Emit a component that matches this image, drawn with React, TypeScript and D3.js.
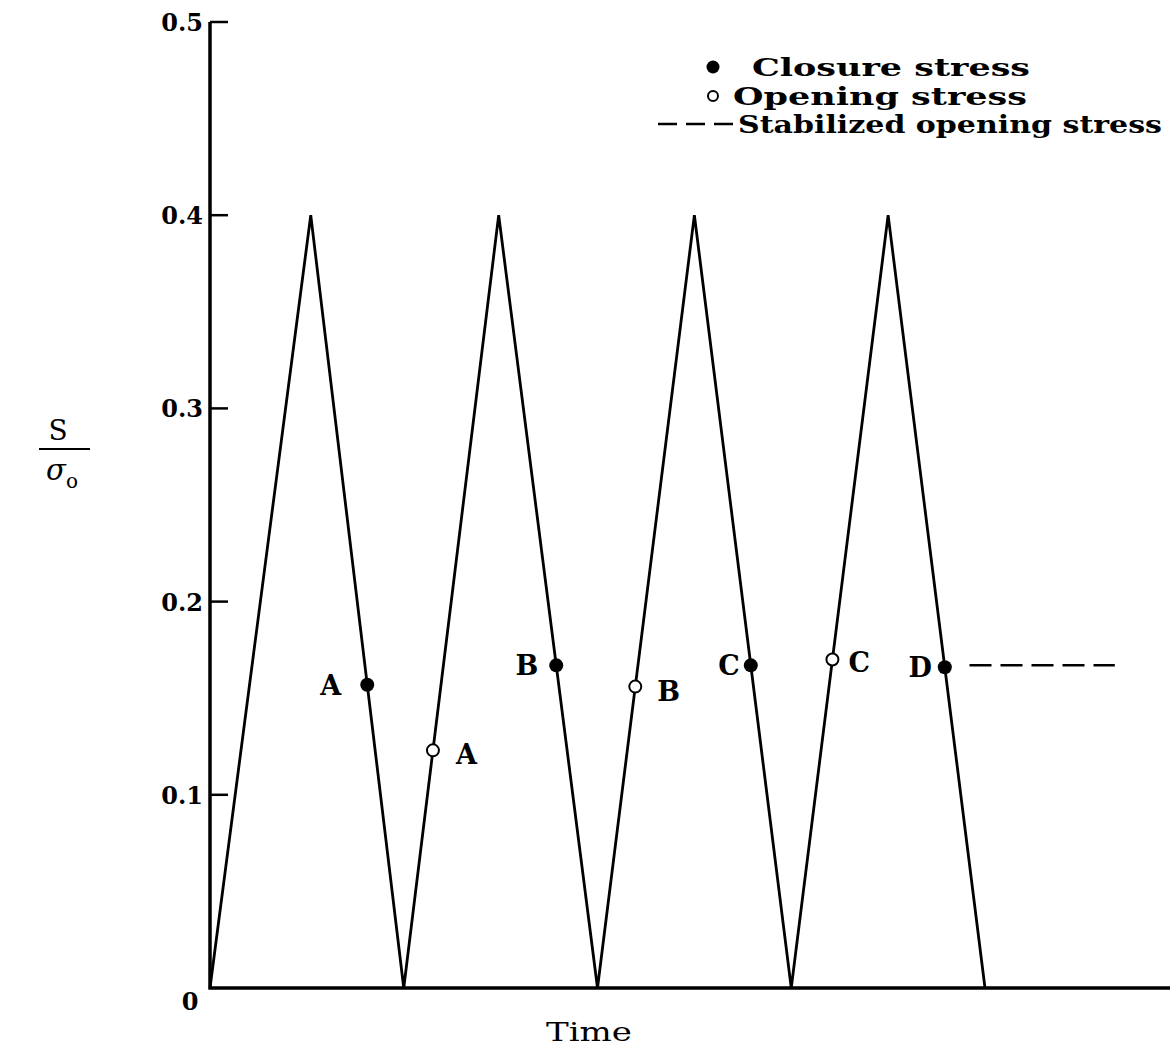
import React from 'react'
import * as d3 from 'd3'

// vertices of the loading wave (time in cycles, stress S/sigma_o)
const waveTimes = [0, 0.52, 1.0, 1.49, 2.0, 2.5, 3.0, 3.5, 4.0]
const waveStress = [0, 0.4, 0, 0.4, 0, 0.4, 0, 0.4, 0]

// closure stress points lie on descending legs (segment index = 2*cycle+1)
const closureLabels = ['A', 'B', 'C', 'D']
const closureSegments = [1, 3, 5, 7]
const closureValues = [0.157, 0.167, 0.167, 0.166]

// opening stress points lie on ascending legs
const openingLabels = ['A', 'B', 'C']
const openingSegments = [2, 4, 6]
const openingValues = [0.123, 0.156, 0.17]

const stabilizedValue = 0.167
const stabilizedTimes = [3.92, 4.67]

const yTicks = [0, 0.1, 0.2, 0.3, 0.4, 0.5]

const W = 1170
const H = 1048
const FONT = '"DejaVu Serif", serif'

// label offsets from their markers (layout only)
const closureDx = [-26, -18, -11, -13]
const openingDx = [23, 22, 16]
const openingDy = [14, 14, 12]

export default function App() {
  const x = d3.scaleLinear().domain([0, 4]).range([210, 985])
  const y = d3.scaleLinear().domain([0, 0.5]).range([988, 22])

  const line = d3.line<number>()
    .x((_, i) => x(waveTimes[i]))
    .y((d) => y(d))

  // time where a segment reaches a given stress
  const timeOnSegment = (seg: number, s: number) => {
    const t0 = waveTimes[seg]
    const t1 = waveTimes[seg + 1]
    const s0 = waveStress[seg]
    const s1 = waveStress[seg + 1]
    return t0 + ((s - s0) / (s1 - s0)) * (t1 - t0)
  }

  return (
    <div style={{ position: 'absolute', left: 0, top: 0 }}>
      <svg width={W} height={H} style={{ display: 'block', background: '#fff' }}>
        {/* axes */}
        <path d={`M${x(0)},${y(0.5)}V${y(0)}H${W}`} fill="none" stroke="#000" strokeWidth={3.5} />
        {yTicks.map((t) => (
          <g key={t}>
            {t > 0 && (
              <line x1={x(0)} x2={x(0) + 18} y1={y(t)} y2={y(t)} stroke="#000" strokeWidth={2.5} />
            )}
            <text
              x={t === 0 ? 190 : 203}
              y={t === 0 ? y(t) + 22 : y(t) + 9}
              textAnchor={t === 0 ? 'middle' : 'end'}
              fontFamily={FONT}
              fontWeight="bold"
              fontSize={24}
            >
              {t === 0 ? '0' : t.toFixed(1)}
            </text>
          </g>
        ))}

        {/* axis titles */}
        <text x={589} y={1041} textAnchor="middle" fontFamily={FONT} fontSize={26} textLength={86} lengthAdjust="spacingAndGlyphs">Time</text>
        <text x={58} y={440} textAnchor="middle" fontFamily={FONT} fontSize={28}>S</text>
        <line x1={39} x2={90} y1={449} y2={449} stroke="#000" strokeWidth={2} />
        <text x={56} y={480} textAnchor="middle" fontFamily={FONT} fontSize={29} fontStyle="italic">σ</text>
        <text x={72} y={488} textAnchor="middle" fontFamily={FONT} fontSize={20}>o</text>

        {/* wave */}
        <path d={line(waveStress) || ''} fill="none" stroke="#000" strokeWidth={2.8} strokeLinejoin="miter" />

        {/* stabilized opening stress */}
        <line
          x1={x(stabilizedTimes[0])}
          x2={x(stabilizedTimes[1])}
          y1={y(stabilizedValue)}
          y2={y(stabilizedValue)}
          stroke="#000"
          strokeWidth={2.5}
          strokeDasharray="22,9"
        />

        {/* closure points */}
        {closureValues.map((v, i) => {
          const cx = x(timeOnSegment(closureSegments[i], v))
          const cy = y(v)
          return (
            <g key={`c${i}`}>
              <circle cx={cx} cy={cy} r={7} fill="#000" />
              <text x={cx + closureDx[i]} y={cy + 10} textAnchor="end" fontFamily={FONT} fontWeight="bold" fontSize={27}>
                {closureLabels[i]}
              </text>
            </g>
          )
        })}

        {/* opening points */}
        {openingValues.map((v, i) => {
          const cx = x(timeOnSegment(openingSegments[i], v))
          const cy = y(v)
          return (
            <g key={`o${i}`}>
              <circle cx={cx} cy={cy} r={6} fill="#fff" stroke="#000" strokeWidth={2} />
              <text x={cx + openingDx[i]} y={cy + openingDy[i]} fontFamily={FONT} fontWeight="bold" fontSize={27}>
                {openingLabels[i]}
              </text>
            </g>
          )
        })}

        {/* legend */}
        <circle cx={713} cy={67} r={6.5} fill="#000" />
        <text x={752} y={76} fontFamily={FONT} fontWeight="bold" fontSize={25} textLength={278} lengthAdjust="spacingAndGlyphs">Closure stress</text>
        <circle cx={713} cy={96} r={5} fill="#fff" stroke="#000" strokeWidth={2} />
        <text x={733} y={105} fontFamily={FONT} fontWeight="bold" fontSize={25} textLength={294} lengthAdjust="spacingAndGlyphs">Opening stress</text>
        <line x1={658} x2={735} y1={124} y2={124} stroke="#000" strokeWidth={2.5} strokeDasharray="19,9" />
        <text x={738} y={133} fontFamily={FONT} fontWeight="bold" fontSize={25} textLength={424} lengthAdjust="spacingAndGlyphs">Stabilized opening stress</text>
      </svg>
    </div>
  )
}
